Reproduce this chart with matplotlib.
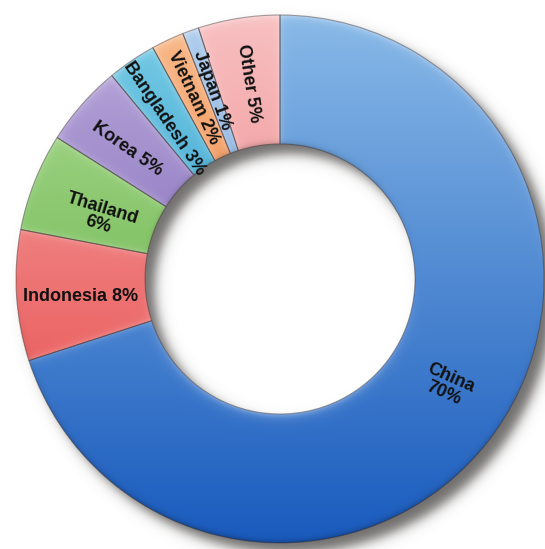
import numpy as np
import matplotlib.pyplot as plt
from matplotlib.colors import to_rgb

# share of imports by source country (%)
countries = ["China", "Indonesia", "Thailand", "Korea", "Bangladesh", "Vietnam", "Japan", "Other"]
shares = [70, 8, 6, 5, 3, 2, 1, 5]
labels = ["China\n70%", "Indonesia 8%", "Thailand\n6%", "Korea 5%",
          "Bangladesh 3%", "Vietnam 2%", "Japan 1%", "Other 5%"]
colors = ["#5098dc", "#f28080", "#8ccd68", "#9c84cc",
          "#36b4da", "#f59a52", "#8ab6e4", "#f4a2a4"]

# label placement: rotation, radial fraction, angular nudge (deg)
label_rot = [-24, 0, -17, -35, -56, -65, -70, -81]
label_rad = [0.75, 0.76, 0.72, 0.76, 0.75, 0.76, 0.76, 0.75]
label_nudge = [3.5, 1.5, 2.5, 1.0, 1.5, 0.5, 0.0, 0.0]

W, H = 545, 549
cx, cy = 280, 270
R, RIN = 264, 135

fig = plt.figure(figsize=(W / 100, H / 100), dpi=100)
ax = fig.add_axes([0, 0, 1, 1])

# wedge outlines come from the pie; the fill is painted below as one image
wedges, _ = ax.pie(shares, colors=colors, startangle=90, counterclock=False,
                   radius=R, center=(cx, cy),
                   wedgeprops=dict(width=R - RIN, linewidth=0.8,
                                   edgecolor=(0.25, 0.2, 0.2, 0.45)))

xs = np.arange(W) + 0.5
ys = np.arange(H) + 0.5
XX, YY = np.meshgrid(xs, ys)
rr = np.hypot(XX - cx, YY - cy)
th = np.degrees(np.arctan2(YY - cy, XX - cx))

sinv = (YY - cy) / np.maximum(rr, 1)
dout = np.clip(R - rr, 0, None)
din = np.clip(rr - RIN, 0, None)
tv = np.clip((YY - (cy - R)) / (2 * R), 0, 1)[..., None]
ring_cov = np.clip(R - rr + 0.5, 0, 1) * np.clip(rr - RIN + 0.5, 0, 1)

# soft drop shadow, offset down-right (also falls inside the hole)
off = 10
rs = np.hypot(XX - cx - off, YY - cy + off)
dist = np.maximum(rs - R, RIN - rs)
sh_a = 0.80 * 0.5 * (1 - np.tanh(dist / 7.0))
sh_rgb = np.array([0.30, 0.29, 0.28])

ring_rgb = np.zeros((H, W, 3))
ring_a = np.zeros((H, W))

for w, c in zip(wedges, colors):
    t1, t2 = w.theta1, w.theta2
    span = t2 - t1
    a = (th - t1) % 360
    inside = a <= span
    arc = np.where(inside, np.minimum(a, span - a), -np.minimum(a - span, 360 - a))
    de = rr * np.radians(np.abs(arc))
    cov = np.clip(np.sign(arc) * de + 0.5, 0, 1) * ring_cov

    base = np.array(to_rgb(c))
    top = base + (1 - base) * 0.32
    bot = base ** 2.0
    rgb = bot + (top - bot) * tv

    # glossy bevel along the rims and slice edges
    light = (0.40 * np.exp(-dout / 3.5) * np.clip(sinv, 0, 1)
             + 0.40 * np.exp(-din / 4.0) * np.clip(-sinv, 0, 1)
             + 0.22 * np.exp(-de / 3.0))
    dark = (0.30 * np.exp(-dout / 2.5) * np.clip(-sinv, 0, 1)
            + 0.20 * np.exp(-din / 2.5) * np.clip(sinv, 0, 1))
    rgb = rgb + (1 - rgb) * light[..., None]
    rgb = rgb * (1 - dark[..., None])

    ring_rgb += rgb * cov[..., None]
    ring_a += cov

ring_a = np.clip(ring_a, 0, 1)
out_a = ring_a + sh_a * (1 - ring_a)
out_rgb = (ring_rgb + sh_rgb * (sh_a * (1 - ring_a))[..., None]) / np.maximum(out_a, 1e-6)[..., None]
img = np.dstack([np.clip(out_rgb, 0, 1), out_a])
ax.imshow(img, extent=(0, W, 0, H), origin="lower", zorder=1, interpolation="bilinear")

for w in wedges:
    w.set_facecolor("none")
    w.set_zorder(3)

for w, lab, rot, frac, nud in zip(wedges, labels, label_rot, label_rad, label_nudge):
    mid = np.radians((w.theta1 + w.theta2) / 2 + nud)
    ax.text(cx + frac * R * np.cos(mid), cy + frac * R * np.sin(mid), lab,
            rotation=rot, rotation_mode="anchor", ha="center", va="center",
            fontsize=13, fontweight="bold", family="Liberation Sans",
            linespacing=1.0, color="#111111", zorder=5)

ax.set_xlim(0, W)
ax.set_ylim(0, H)
ax.set_aspect("equal")
ax.axis("off")

fig.savefig("out.png", dpi=100)
